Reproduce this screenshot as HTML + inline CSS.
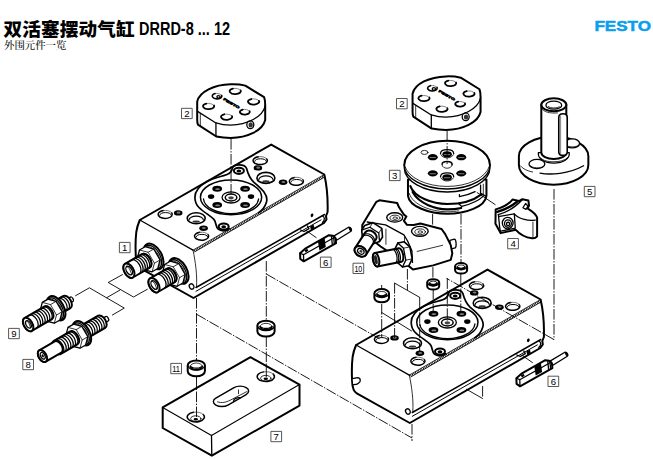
<!DOCTYPE html>
<html lang="zh-CN">
<head>
<meta charset="utf-8">
<title>双活塞摆动气缸 DRRD-8 ... 12</title>
<style>
html,body{margin:0;padding:0;background:#fff;}
body{width:653px;height:459px;overflow:hidden;position:relative;font-family:"Liberation Sans","Noto Sans CJK SC",sans-serif;}
#title{position:absolute;left:3.5px;top:13px;margin:0;white-space:nowrap;line-height:24px;height:24px;font-weight:bold;color:#000;}
#title .cn{font-family:"Liberation Sans","Noto Sans CJK SC",sans-serif;font-weight:900;font-size:18.6px;letter-spacing:0.15px;}
#title .la{font-family:"Liberation Sans","Noto Sans CJK SC",sans-serif;font-weight:bold;font-size:18.2px;display:inline-block;transform-origin:0 50%;transform:scaleX(0.797);margin-left:4.3px;position:relative;top:-1.4px;}
#sub{position:absolute;left:4px;top:39px;margin:0;white-space:nowrap;line-height:14px;font-family:"Liberation Serif","Noto Serif CJK SC",serif;font-size:10.4px;font-weight:500;color:#111;}
#logo{position:absolute;left:594px;top:18px;width:58px;height:15px;}
#draw{position:absolute;left:0;top:0;width:653px;height:459px;}
#draw path,#draw ellipse,#draw circle,#draw line,#draw polyline,#draw polygon,#draw rect{vector-effect:non-scaling-stroke;}
.k{fill:none;stroke:#000;stroke-width:2.0;stroke-linejoin:round;stroke-linecap:round;}
.m{fill:none;stroke:#000;stroke-width:1.3;stroke-linejoin:round;stroke-linecap:round;}
.t{fill:none;stroke:#000;stroke-width:0.8;stroke-linejoin:round;stroke-linecap:round;}
.w{fill:#fff;}
.b{fill:#000;stroke:none;}
.d{fill:none;stroke:#000;stroke-width:0.9;stroke-dasharray:10.6 1.5 1.4 1.5;}
.lb rect{fill:#fff;stroke:#444;stroke-width:0.9;}
.lb text{font-family:"Liberation Sans",sans-serif;font-size:9.6px;fill:#000;text-anchor:middle;}
</style>
</head>
<body>
<h1 id="title"><span class="cn">双活塞摆动气缸</span><span class="la">DRRD-8 ... 12</span></h1>
<p id="sub">外围元件一览</p>
<svg id="logo" viewBox="0 0 58 15"><text x="28.7" y="12.7" text-anchor="middle" textLength="56.5" lengthAdjust="spacingAndGlyphs" font-family="'Liberation Sans',sans-serif" font-weight="bold" font-size="14.2" fill="#0a9fee" stroke="#0a9fee" stroke-width="0.5">FESTO</text></svg>
<svg id="draw" viewBox="0 0 653 459">
<!--DASH-->
<!--p2l:start-->
<g transform="translate(170,70) scale(0.18377)">
<path class="k w" d="M148,172 C160,118 240,80 330,78 C360,77 390,80 410,85 L512,148 C517,160 518,175 518,190 L518,272 C505,330 420,368 330,370 C300,370 275,367 252,362 L152,297 C149,290 148,280 148,270 Z"/>
<path class="m" d="M150,225 L250,288 C275,296 300,300 330,300 C420,298 505,255 518,195"/>
<path class="m" d="M250,288 L250,361"/>
<path class="t" d="M165,238 L165,303"/>
<path class="t" style="stroke:#666" d="M342.11,100.95 A30.5,15.5 0 0 1 384.46,110.99"/><path class="k" style="stroke-width:1.8" d="M384.46,110.99 A30.5,15.5 0 1 1 342.11,100.95"/>
<path class="t" style="stroke:#666" d="M442.11,157.95 A30.5,15.5 0 0 1 484.46,167.99"/><path class="k" style="stroke-width:1.8" d="M484.46,167.99 A30.5,15.5 0 1 1 442.11,157.95"/>
<path class="t" style="stroke:#666" d="M197.11,182.95 A30.5,15.5 0 0 1 239.46,192.99"/><path class="k" style="stroke-width:1.8" d="M239.46,192.99 A30.5,15.5 0 1 1 197.11,182.95"/>
<path class="t" style="stroke:#666" d="M295.11,240.95 A30.5,15.5 0 0 1 337.46,250.99"/><path class="k" style="stroke-width:1.8" d="M337.46,250.99 A30.5,15.5 0 1 1 295.11,240.95"/>
<path class="t" style="stroke:#666" d="M395.59,215.31 A27,14 0 0 1 433.08,224.38"/><path class="k" style="stroke-width:1.8" d="M433.08,224.38 A27,14 0 1 1 395.59,215.31"/>
<path class="t" style="stroke:#666" d="M245.01,128.41 A26,15 0 0 1 281.11,138.12"/><path class="k" style="stroke-width:1.6" d="M281.11,138.12 A26,15 0 1 1 245.01,128.41"/>
<ellipse class="m" cx="264" cy="146" rx="9" ry="7"/>
<text transform="translate(288,162) rotate(30) scale(1,0.6)" font-family="'Liberation Sans',sans-serif" font-weight="bold" font-size="30" fill="#000" stroke="#000" stroke-width="5" textLength="100" lengthAdjust="spacingAndGlyphs">FESTO</text>
<ellipse class="m" cx="437" cy="298" rx="19" ry="21"/>
<ellipse class="b" cx="439" cy="299" rx="12" ry="14" style="fill:#333"/>
</g>
<!--p2l:end-->
<!--body1:start-->
<g id="body1">
<path class="k w" d="M139.8,220 L271.2,144.6 L324.3,174.5 C326.5,184 328,198 327.6,212 L326,216 L326.5,219.5 L324,223 L193.5,298 L140.5,268.3 C137,266.5 136,262 135.8,256 C135.4,248 135.6,238 136.3,232 C137,227 138.5,223 139.8,220 Z"/>
<path class="m" d="M139.8,220 L193,250.1"/>
<path d="M194.3,250.9 L324.6,175.9" fill="none" stroke="#000" stroke-width="2.2" stroke-dasharray="0.9 0.9"/>
<path class="t" d="M193,250.1 L324.3,174.5"/>
<path class="t" d="M194.6,251.9 L324.9,176.9"/>
<path class="t" d="M193,250.1 C195.5,262 197.3,275 196.5,287"/>
<path class="m" style="stroke-width:1.5" d="M196,287.5 L324.5,214.5"/>
<path class="m" style="stroke-width:1.0" d="M196,291.3 L321,219.9"/>
<path class="m" d="M300.5,230 L304,231.5 L309,228.6 L307.5,226"/>
<path class="b" d="M310,226.5 L313.5,224.5 L314.5,228 L311,230 Z"/>
<path class="m" d="M322.5,216 C325,217 325,220 322.5,222.5"/>
<ellipse class="m w" cx="191.6" cy="286.5" rx="2.2" ry="2.8" transform="rotate(-30 191.6 286.5)"/>
<ellipse class="b" cx="312" cy="215.3" rx="1.3" ry="1.9" transform="rotate(20 312 215.3)"/>
<path class="k" style="stroke-width:1.7" d="M232.3,168.5 C233,163.6 245,163.6 246.6,168.5 C247.6,172.5 249,177.5 253.7,182.1 C262,189 268.5,195 266.5,202 C265,207 262,210.5 258.6,212.7 M229.2,228.6 C227.5,231.2 221,231.6 218.2,229.2 C215.5,227 216.5,222.5 213.9,219.4 C211,216 204,212.5 199,207.5 C196,204.5 194.9,200.5 194.9,197.2 C194.9,191 200,185.5 207,181.5 C214,177.7 222,176.5 227,174.5 C230,173.3 231.8,171 232.3,168.5"/>
<ellipse class="m" style="stroke-width:1.5" cx="231.05" cy="197.3" rx="30.6" ry="17.4"/>
<path class="m" d="M203.5,199 A27.6,15.6 0 0 0 258.6,199"/>
<ellipse class="k" style="stroke-width:2.0" cx="238.9" cy="170.8" rx="5.0" ry="3.1"/>
<ellipse class="b" cx="238.9" cy="171.0" rx="2.4" ry="1.5"/>
<ellipse class="k" style="stroke-width:2.0" cx="223.7" cy="226.5" rx="5.0" ry="3.1"/>
<ellipse class="b" cx="223.7" cy="226.7" rx="2.4" ry="1.5"/>
<ellipse class="m" cx="231.05" cy="197.4" rx="9" ry="5.6"/>
<ellipse class="k" style="stroke-width:1.5" cx="231.05" cy="197.5" rx="5.8" ry="3.5"/>
<ellipse class="b" cx="231.05" cy="197.8" rx="2.8" ry="1.6" style="fill:#444"/>
<ellipse class="b" cx="217.2" cy="188.8" rx="4.9" ry="3"/>
<ellipse cx="217.6" cy="189.1" rx="2.4" ry="0.9" fill="#888"/>
<ellipse class="b" cx="245.1" cy="188.8" rx="4.9" ry="3"/>
<ellipse cx="245.5" cy="189.1" rx="2.4" ry="0.9" fill="#888"/>
<ellipse class="b" cx="217.2" cy="205.1" rx="4.9" ry="3"/>
<ellipse cx="217.6" cy="205.4" rx="2.4" ry="0.9" fill="#888"/>
<ellipse class="b" cx="245.1" cy="205.1" rx="4.9" ry="3"/>
<ellipse cx="245.5" cy="205.4" rx="2.4" ry="0.9" fill="#888"/>
<ellipse class="b" cx="211.1" cy="196.6" rx="3.2" ry="2.3"/>
<ellipse class="b" cx="251" cy="196.6" rx="3.2" ry="2.3"/>
<path class="k" style="stroke-width:1.5" d="M171.63,212.71 A7.1,4.0 0 1 1 163.36,210.54"/><path class="t" style="stroke:#555" d="M163.36,210.54 A7.1,4.0 0 0 1 171.63,212.71"/><path class="m" style="stroke-width:1.0" d="M159.72,215.16 A5.8,2.8 0 0 1 171.28,215.16"/>
<ellipse class="b" cx="178.2" cy="212.9" rx="4.3" ry="2.7"/><ellipse cx="178.5" cy="212.7" rx="1.94" ry="1.08" fill="#777"/>
<ellipse class="k" style="stroke-width:1.6" cx="196.2" cy="218.2" rx="9.0" ry="5.5"/><path class="m" style="stroke-width:1.2" d="M189.10,219.80 A7.1,3.6 0 0 1 203.30,219.80"/><ellipse class="b" style="fill:#333" cx="196.2" cy="221.6" rx="3.6" ry="1.1"/>
<ellipse class="b" cx="203.6" cy="228.2" rx="4.3" ry="2.7"/><ellipse cx="203.9" cy="228.0" rx="1.94" ry="1.08" fill="#777"/>
<path class="k" style="stroke-width:1.5" d="M208.03,234.51 A7.1,4.0 0 1 1 199.76,232.34"/><path class="t" style="stroke:#555" d="M199.76,232.34 A7.1,4.0 0 0 1 208.03,234.51"/><path class="m" style="stroke-width:1.0" d="M196.12,236.96 A5.8,2.8 0 0 1 207.68,236.96"/>
<path class="k" style="stroke-width:1.5" d="M266.63,158.91 A7.1,4.0 0 1 1 258.36,156.74"/><path class="t" style="stroke:#555" d="M258.36,156.74 A7.1,4.0 0 0 1 266.63,158.91"/><path class="m" style="stroke-width:1.0" d="M254.72,161.36 A5.8,2.8 0 0 1 266.28,161.36"/>
<ellipse class="b" cx="257.9" cy="167.9" rx="4.3" ry="2.7"/><ellipse cx="258.2" cy="167.7" rx="1.94" ry="1.08" fill="#777"/>
<ellipse class="k" style="stroke-width:1.6" cx="265.9" cy="177.9" rx="9.0" ry="5.5"/><path class="m" style="stroke-width:1.2" d="M258.80,179.50 A7.1,3.6 0 0 1 273.00,179.50"/><ellipse class="b" style="fill:#333" cx="265.9" cy="181.3" rx="3.6" ry="1.1"/>
<ellipse class="b" cx="283.1" cy="182.2" rx="4.3" ry="2.7"/><ellipse cx="283.4" cy="182.0" rx="1.94" ry="1.08" fill="#777"/>
<path class="k" style="stroke-width:1.5" d="M302.83,179.61 A7.1,4.0 0 1 1 294.56,177.44"/><path class="t" style="stroke:#555" d="M294.56,177.44 A7.1,4.0 0 0 1 302.83,179.61"/><path class="m" style="stroke-width:1.0" d="M290.92,182.06 A5.8,2.8 0 0 1 302.48,182.06"/>
</g>
<!--body1:end-->
<!--fit1:start-->
<g id="fit1">
<g transform="translate(153.6,256.4) rotate(-30)">
<ellipse class="k w" cx="0" cy="0" rx="8.09" ry="14.00"/>
<ellipse class="m" cx="-1.2" cy="0" rx="7.49" ry="12.80"/>
<ellipse class="t" cx="-2.2" cy="0" rx="7.09" ry="12.00"/>
<path class="m w" d="M-2.50,-12.60 L3.81,-6.30 L3.81,6.30 L-2.50,12.60 L-9.00,12.60 L-15.31,6.30 L-15.31,-6.30 L-9.00,-12.60 Z"/>
<path class="t" d="M-9.00,-12.60 L-2.69,-6.30 L-2.69,6.30 L-9.00,12.60"/>
<path class="t" d="M-2.69,-6.30 L3.81,-6.30 M-2.69,6.30 L3.81,6.30"/>
<path class="k w" d="M-9.00,-7.90 L-28.50,-7.90 A4.57,7.90 0 0 0 -28.50,7.90 L-9.00,7.90 A4.57,7.90 0 0 0 -9.00,-7.90 Z"/>
<path class="m" style="stroke-width:1.3" d="M-21.00,-7.90 A4.57,7.90 0 0 1 -21.00,7.90"/>
<path class="m" style="stroke-width:1.3" d="M-18.50,-7.90 A4.57,7.90 0 0 1 -18.50,7.90"/>
<path class="m" style="stroke-width:1.3" d="M-16.00,-7.90 A4.57,7.90 0 0 1 -16.00,7.90"/>
<path class="m" style="stroke-width:1.3" d="M-13.50,-7.90 A4.57,7.90 0 0 1 -13.50,7.90"/>
<path class="m" style="stroke-width:1.3" d="M-11.00,-7.90 A4.57,7.90 0 0 1 -11.00,7.90"/>
<path class="m" style="stroke-width:1.3" d="M-8.50,-7.90 A4.57,7.90 0 0 1 -8.50,7.90"/>
<ellipse class="k w" cx="-28.50" cy="0" rx="4.57" ry="7.90"/>
<ellipse class="m" cx="-28.20" cy="0" rx="2.74" ry="4.74"/>
<path class="t" d="M-28.20,-4.74 L-27.00,-1.19 L-27.90,4.58"/>
</g>
<g transform="translate(178.7,270.9) rotate(-30)">
<ellipse class="k w" cx="0" cy="0" rx="8.09" ry="14.00"/>
<ellipse class="m" cx="-1.2" cy="0" rx="7.49" ry="12.80"/>
<ellipse class="t" cx="-2.2" cy="0" rx="7.09" ry="12.00"/>
<path class="m w" d="M-2.50,-12.60 L3.81,-6.30 L3.81,6.30 L-2.50,12.60 L-9.00,12.60 L-15.31,6.30 L-15.31,-6.30 L-9.00,-12.60 Z"/>
<path class="t" d="M-9.00,-12.60 L-2.69,-6.30 L-2.69,6.30 L-9.00,12.60"/>
<path class="t" d="M-2.69,-6.30 L3.81,-6.30 M-2.69,6.30 L3.81,6.30"/>
<path class="k w" d="M-9.00,-7.90 L-28.50,-7.90 A4.57,7.90 0 0 0 -28.50,7.90 L-9.00,7.90 A4.57,7.90 0 0 0 -9.00,-7.90 Z"/>
<path class="m" style="stroke-width:1.3" d="M-21.00,-7.90 A4.57,7.90 0 0 1 -21.00,7.90"/>
<path class="m" style="stroke-width:1.3" d="M-18.50,-7.90 A4.57,7.90 0 0 1 -18.50,7.90"/>
<path class="m" style="stroke-width:1.3" d="M-16.00,-7.90 A4.57,7.90 0 0 1 -16.00,7.90"/>
<path class="m" style="stroke-width:1.3" d="M-13.50,-7.90 A4.57,7.90 0 0 1 -13.50,7.90"/>
<path class="m" style="stroke-width:1.3" d="M-11.00,-7.90 A4.57,7.90 0 0 1 -11.00,7.90"/>
<path class="m" style="stroke-width:1.3" d="M-8.50,-7.90 A4.57,7.90 0 0 1 -8.50,7.90"/>
<ellipse class="k w" cx="-28.50" cy="0" rx="4.57" ry="7.90"/>
<ellipse class="m" cx="-28.20" cy="0" rx="2.74" ry="4.74"/>
<path class="t" d="M-28.20,-4.74 L-27.00,-1.19 L-27.90,4.58"/>
</g>
</g>
<!--fit1:end-->
<!--abs89:start-->
<g id="abs89">
<g transform="translate(56.1,308.3) rotate(-30)">
<path class="m w" d="M12.5,-2.5 L18.0,-2.5 A1.45,2.5 0 0 1 18.0,2.5 L12.5,2.5 Z"/>
<path class="k w" d="M0,-7.0 L12.5,-7.0 A4.05,7.0 0 0 1 12.5,7.0 L0,7.0 Z"/>
<path class="m" style="stroke-width:1.25" d="M9.80,-7.0 A4.05,7.0 0 0 1 9.80,7.0"/>
<path class="m" style="stroke-width:1.25" d="M7.10,-7.0 A4.05,7.0 0 0 1 7.10,7.0"/>
<ellipse class="k w" cx="0" cy="0" rx="7.69" ry="13.30"/>
<ellipse class="m" cx="-1.2" cy="0" rx="7.09" ry="12.10"/>
<ellipse class="t" cx="-2.2" cy="0" rx="6.69" ry="11.30"/>
<path class="m w" d="M-2.50,-12.00 L3.51,-6.00 L3.51,6.00 L-2.50,12.00 L-9.00,12.00 L-15.01,6.00 L-15.01,-6.00 L-9.00,-12.00 Z"/>
<path class="t" d="M-9.00,-12.00 L-2.99,-6.00 L-2.99,6.00 L-9.00,12.00"/>
<path class="t" d="M-2.99,-6.00 L3.51,-6.00 M-2.99,6.00 L3.51,6.00"/>
<path class="k w" d="M-9.00,-7.4 L-32.30,-7.4 A4.28,7.4 0 0 0 -32.30,7.4 L-9.00,7.4 A4.28,7.4 0 0 0 -9.00,-7.4 Z"/>
<path class="m" style="stroke-width:1.25" d="M-10.50,-7.4 A4.28,7.4 0 0 1 -10.50,7.4"/>
<path class="m" style="stroke-width:1.25" d="M-13.20,-7.4 A4.28,7.4 0 0 1 -13.20,7.4"/>
<path class="m" style="stroke-width:1.25" d="M-15.90,-7.4 A4.28,7.4 0 0 1 -15.90,7.4"/>
<path class="m" style="stroke-width:1.25" d="M-18.60,-7.4 A4.28,7.4 0 0 1 -18.60,7.4"/>
<path class="m" style="stroke-width:1.25" d="M-21.30,-7.4 A4.28,7.4 0 0 1 -21.30,7.4"/>
<path class="m" style="stroke-width:1.25" d="M-24.00,-7.4 A4.28,7.4 0 0 1 -24.00,7.4"/>
<path class="m" style="stroke-width:1.25" d="M-26.70,-7.4 A4.28,7.4 0 0 1 -26.70,7.4"/>
<ellipse class="k w" cx="-32.30" cy="0" rx="4.28" ry="7.40"/>
<ellipse class="m" cx="-32.00" cy="0" rx="2.35" ry="4.07"/>
<path class="t" d="M-32.00,-4.07 L-30.90,-1.11 L-31.70,3.92"/>
</g>
<g transform="translate(81.8,333.3) rotate(-30)">
<path class="m w" d="M23,-2.5 L29,-2.5 A1.45,2.5 0 0 1 29,2.5 L23,2.5 Z"/>
<path class="k w" d="M0,-7.0 L23,-7.0 A4.05,7.0 0 0 1 23,7.0 L0,7.0 Z"/>
<path class="m" style="stroke-width:1.25" d="M20.30,-7.0 A4.05,7.0 0 0 1 20.30,7.0"/>
<path class="m" style="stroke-width:1.25" d="M17.60,-7.0 A4.05,7.0 0 0 1 17.60,7.0"/>
<path class="m" style="stroke-width:1.25" d="M14.90,-7.0 A4.05,7.0 0 0 1 14.90,7.0"/>
<path class="m" style="stroke-width:1.25" d="M12.20,-7.0 A4.05,7.0 0 0 1 12.20,7.0"/>
<path class="m" style="stroke-width:1.25" d="M9.50,-7.0 A4.05,7.0 0 0 1 9.50,7.0"/>
<path class="m" style="stroke-width:1.25" d="M6.80,-7.0 A4.05,7.0 0 0 1 6.80,7.0"/>
<ellipse class="k w" cx="0" cy="0" rx="7.69" ry="13.30"/>
<ellipse class="m" cx="-1.2" cy="0" rx="7.09" ry="12.10"/>
<ellipse class="t" cx="-2.2" cy="0" rx="6.69" ry="11.30"/>
<path class="m w" d="M-2.50,-12.00 L3.51,-6.00 L3.51,6.00 L-2.50,12.00 L-9.00,12.00 L-15.01,6.00 L-15.01,-6.00 L-9.00,-12.00 Z"/>
<path class="t" d="M-9.00,-12.00 L-2.99,-6.00 L-2.99,6.00 L-9.00,12.00"/>
<path class="t" d="M-2.99,-6.00 L3.51,-6.00 M-2.99,6.00 L3.51,6.00"/>
<path class="k w" d="M-9.00,-7.4 L-28.40,-7.4 A4.28,7.4 0 0 0 -28.40,7.4 L-9.00,7.4 A4.28,7.4 0 0 0 -9.00,-7.4 Z"/>
<path class="m" style="stroke-width:1.25" d="M-10.50,-7.4 A4.28,7.4 0 0 1 -10.50,7.4"/>
<path class="m" style="stroke-width:1.25" d="M-13.20,-7.4 A4.28,7.4 0 0 1 -13.20,7.4"/>
<path class="m" style="stroke-width:1.25" d="M-15.90,-7.4 A4.28,7.4 0 0 1 -15.90,7.4"/>
<path class="m" style="stroke-width:1.25" d="M-18.60,-7.4 A4.28,7.4 0 0 1 -18.60,7.4"/>
<path class="m" style="stroke-width:1.25" d="M-21.30,-7.4 A4.28,7.4 0 0 1 -21.30,7.4"/>
<path class="m" style="stroke-width:1.25" d="M-24.00,-7.4 A4.28,7.4 0 0 1 -24.00,7.4"/>
<path class="m" style="stroke-width:1.25" d="M-26.70,-7.4 A4.28,7.4 0 0 1 -26.70,7.4"/>
<path class="k w" d="M-27.40,-6.6 L-45.40,-6.6 A3.82,6.6 0 0 0 -45.40,6.6 L-27.40,6.6 A3.82,6.6 0 0 0 -27.40,-6.6 Z"/>
<ellipse class="k w" cx="-45.40" cy="0" rx="3.82" ry="6.60"/>
<ellipse class="m" cx="-45.10" cy="0" rx="2.10" ry="3.63"/>
<ellipse class="b" cx="-45.10" cy="0" rx="0.95" ry="1.65"/>
</g>
</g>
<!--abs89:end-->
<!--plate7:start-->
<g id="plate7">
<path class="k w" d="M162.7,407.4 L250.5,357.2 L299.5,384.6 L299.5,405.6 L211.8,455.6 L162.7,428 Z"/>
<path class="m" style="stroke-width:1.1" d="M162.7,407.4 L211.5,435.4 L299.5,384.6"/>
<path class="m" d="M211.5,435.4 L211.8,455.6"/>
<!-- holes -->
<path class="k" style="stroke-width:1.5" d="M203.25,414.55 A8.6,4.9 0 1 1 193.57,412.27"/><path class="t" style="stroke:#555" d="M193.57,412.27 A8.6,4.9 0 0 1 203.25,414.55"/><ellipse class="t" cx="195.8" cy="418.6" rx="5.2" ry="2.8"/><ellipse class="b" cx="195.8" cy="419.2" rx="2.2" ry="1.2"/>
<path class="k" style="stroke-width:1.5" d="M273.25,374.15 A8.6,4.9 0 1 1 263.57,371.87"/><path class="t" style="stroke:#555" d="M263.57,371.87 A8.6,4.9 0 0 1 273.25,374.15"/><ellipse class="t" cx="265.8" cy="378.20000000000005" rx="5.2" ry="2.8"/><ellipse class="b" cx="265.8" cy="378.8" rx="2.2" ry="1.2"/>
<!-- slot -->
<g transform="translate(231,396.3)">
<path class="m" style="stroke-width:1.4" d="M-15.16,1.75 L3.03,-8.75 A8.57,4.95 0 0 1 15.16,-1.75 L-3.03,8.75 A8.57,4.95 0 0 1 -15.16,1.75 Z"/>
<path class="t" d="M-13.5,5.6 C-9,7 -5,6 -1,4 L16,-4.8"/>
<path class="m" d="M2.6,5 C2.4,2.4 6,0.8 9.6,1.4"/>
<path class="t" d="M7.5,-6.4 L7.5,-2.6"/>
</g>
</g>
<!--plate7:end-->
<!--rings11:start-->
<g id="rings11">
<g transform="translate(196.3,365.3)">
<path class="k w" d="M-8.6,0 A8.6,4.9 0 0 1 8.6,0 L8.6,6.0 A8.6,4.9 0 0 1 -8.6,6.0 Z"/>
<path class="m" d="M-8.6,0 A8.6,4.9 0 0 0 8.6,0"/>
<path class="t" d="M-6.0,1.0 A6.0,3.3 0 0 1 6.0,1.0"/>
<path class="k" style="stroke-width:1.7" d="M-6.0,1.0 A6.0,3.3 0 0 0 6.0,1.0"/>
<path class="m" d="M-4.8,1.6 A6.0,3.3 0 0 0 4.8,1.6"/>
</g>
<g transform="translate(266,325.6)">
<path class="k w" d="M-8.6,0 A8.6,4.9 0 0 1 8.6,0 L8.6,6.0 A8.6,4.9 0 0 1 -8.6,6.0 Z"/>
<path class="m" d="M-8.6,0 A8.6,4.9 0 0 0 8.6,0"/>
<path class="t" d="M-6.0,1.0 A6.0,3.3 0 0 1 6.0,1.0"/>
<path class="k" style="stroke-width:1.7" d="M-6.0,1.0 A6.0,3.3 0 0 0 6.0,1.0"/>
<path class="m" d="M-4.8,1.6 A6.0,3.3 0 0 0 4.8,1.6"/>
</g>
</g>
<!--rings11:end-->
<!--p2r:start-->
<g transform="translate(385,65) scale(0.18377) translate(2,-16)">
<path class="k w" d="M148,172 C160,118 240,80 330,78 C360,77 390,80 410,85 L512,148 C517,160 518,175 518,190 L518,272 C505,330 420,368 330,370 C300,370 275,367 252,362 L152,297 C149,290 148,280 148,270 Z"/>
<path class="m" d="M150,225 L250,288 C275,296 300,300 330,300 C420,298 505,255 518,195"/>
<path class="m" d="M250,288 L250,361"/>
<path class="t" d="M165,238 L165,303"/>
<path class="t" style="stroke:#666" d="M342.11,100.95 A30.5,15.5 0 0 1 384.46,110.99"/><path class="k" style="stroke-width:1.8" d="M384.46,110.99 A30.5,15.5 0 1 1 342.11,100.95"/>
<path class="t" style="stroke:#666" d="M442.11,157.95 A30.5,15.5 0 0 1 484.46,167.99"/><path class="k" style="stroke-width:1.8" d="M484.46,167.99 A30.5,15.5 0 1 1 442.11,157.95"/>
<path class="t" style="stroke:#666" d="M197.11,182.95 A30.5,15.5 0 0 1 239.46,192.99"/><path class="k" style="stroke-width:1.8" d="M239.46,192.99 A30.5,15.5 0 1 1 197.11,182.95"/>
<path class="t" style="stroke:#666" d="M295.11,240.95 A30.5,15.5 0 0 1 337.46,250.99"/><path class="k" style="stroke-width:1.8" d="M337.46,250.99 A30.5,15.5 0 1 1 295.11,240.95"/>
<path class="t" style="stroke:#666" d="M395.59,215.31 A27,14 0 0 1 433.08,224.38"/><path class="k" style="stroke-width:1.8" d="M433.08,224.38 A27,14 0 1 1 395.59,215.31"/>
<path class="t" style="stroke:#666" d="M245.01,128.41 A26,15 0 0 1 281.11,138.12"/><path class="k" style="stroke-width:1.6" d="M281.11,138.12 A26,15 0 1 1 245.01,128.41"/>
<ellipse class="m" cx="264" cy="146" rx="9" ry="7"/>
<text transform="translate(288,162) rotate(30) scale(1,0.6)" font-family="'Liberation Sans',sans-serif" font-weight="bold" font-size="30" fill="#000" stroke="#000" stroke-width="5" textLength="100" lengthAdjust="spacingAndGlyphs">FESTO</text>
<ellipse class="m" cx="437" cy="298" rx="19" ry="21"/>
<ellipse class="b" cx="439" cy="299" rx="12" ry="14" style="fill:#333"/>
</g>
<!--p2r:end-->
<!--p3:start-->
<g id="p3" transform="translate(385,130) scale(0.18377)">
<path class="k w" d="M125,270 L125,358 C132,416 240,456 338,456 C440,456 545,418 552,358 L552,270 Z"/>
<path class="k" style="stroke-width:2.1" d="M138,305 C160,367 260,403 338,403 C410,403 480,385 525,350"/>
<path class="k" style="stroke-width:2.1" d="M150,338 C185,403 280,432 338,432 C370,432 395,429 415,424"/>
<path class="t" d="M132,345 C150,408 250,444 338,445 C360,445 385,443 400,440"/>
<path class="m" d="M405,352 L405,362 C440,356 470,345 490,335"/>
<path class="m" d="M400,400 L418,416 C460,405 510,385 535,360"/>
<path class="m" d="M520,300 L520,345 L548,360"/>
<path class="t" d="M535,295 L535,352"/>
<path class="m w" style="stroke-width:1.4" d="M105,192 L105,206 A233,131 0 0 0 571,206 L571,192 Z"/>
<ellipse class="w" cx="338" cy="190" rx="233" ry="131"/>
<path class="k" d="M105,190 A233,131 0 0 1 571,190"/>
<path class="m" d="M105,190 A233,131 0 0 0 571,190"/>
<path class="t" d="M108,197 A233,131 0 0 0 568,197"/>
<g class="b">
<ellipse cx="260" cy="148" rx="27" ry="17"/><ellipse cx="415" cy="148" rx="27" ry="17"/>
<ellipse cx="260" cy="236" rx="27" ry="17"/><ellipse cx="415" cy="236" rx="27" ry="17"/>
<ellipse cx="338" cy="132" rx="26" ry="17"/><ellipse cx="338" cy="258" rx="26" ry="17"/>
</g>
<g fill="none" stroke="#fff" stroke-width="0.5">
<path d="M243,150 h34 M398,150 h34 M243,238 h34 M398,238 h34 M321,134 h34 M321,260 h34"/>
</g>
<path class="m" d="M302,128 C304,100 372,100 374,128"/>
<path class="m" d="M302,254 C304,226 372,226 374,254"/>
<path class="t" d="M304,134 C312,158 364,158 372,134 M304,260 C312,284 364,284 372,260"/>
<ellipse class="t" cx="338" cy="190" rx="27" ry="18"/>
<path class="m" d="M310,186 C314,166 362,166 366,186"/>
<ellipse class="t" cx="215" cy="122" rx="19" ry="11"/>
</g>
<!--p3:end-->
<!--p5:start-->
<g id="p5" transform="translate(495,125) scale(0.18377)">
<!-- flange -->
<path class="k w" d="M130,170 L130,218 A189,107 0 0 0 508,218 L508,170 A189,107 0 0 0 130,170 Z"/>
<path class="m" d="M245,262 C300,272 400,268 482,222"/>
<path class="t" d="M138,222 C150,238 175,250 205,256"/>
<!-- holes -->
<ellipse class="m w" cx="420" cy="100" rx="40" ry="25"/>
<path class="t" d="M385,108 C395,122 440,124 455,110"/>
<ellipse class="m w" cx="228" cy="212" rx="43" ry="25"/>
<path class="t" d="M190,220 C200,236 250,238 266,224"/>
<!-- collar -->
<path class="m w" d="M236,150 C232,185 270,207 320,207 C370,207 408,185 404,150 Z"/>
<path class="t" d="M248,178 C262,196 290,200 320,200 C350,200 380,194 394,178"/>
<!-- shaft -->
<path class="k w" d="M252,-110 L252,150 A68,35 0 0 0 388,150 L388,-110 Z"/>
<!-- key -->
<path class="k w" style="stroke-width:1.6" d="M347,-40 C347,-68 393,-68 393,-40 L393,145 C393,172 347,172 347,145 Z"/>
<path class="t" style="stroke:#666" d="M357,-48 L357,158"/>
<!-- top -->
<ellipse class="k w" cx="320" cy="-110" rx="68" ry="35"/>
<ellipse class="m" cx="320" cy="-108" rx="43" ry="22"/>
<path class="t" d="M290,-100 C300,-90 340,-90 350,-100"/>
<path class="t" d="M254,-92 C262,-70 300,-62 340,-66"/>
</g>
<!--p5:end-->
<!--p4:start-->
<g id="p4" transform="translate(480,190) scale(0.12255)">
<path class="k w" d="M128,158 C180,145 235,115 265,78 L318,90 L345,75 L395,86 L400,128 L388,150 C420,170 455,190 466,225 L466,378 C455,392 440,396 425,394 C380,388 330,368 292,325 L168,352 L140,300 L126,275 Z"/>
<path class="k" d="M140,178 C200,162 255,135 300,98" style="stroke-width:2.4"/>
<path class="m" d="M150,200 C210,185 270,160 345,80"/>
<path class="m" d="M150,200 L160,300 L168,352"/>
<path class="m" d="M160,215 L280,195 L288,312 L170,335"/>
<path class="m" d="M280,195 C320,240 400,255 450,245"/>
<path class="t" d="M432,262 L432,385"/>
<path class="m" d="M350,145 L372,110 L392,132 L375,158 Z"/>
<ellipse class="m" cx="226" cy="270" rx="44" ry="47"/>
<ellipse class="m" cx="228" cy="274" rx="28" ry="30"/>
<ellipse class="m" cx="229" cy="277" rx="13" ry="14"/>
</g>
<!--p4:end-->
<!--p10:start-->
<g id="p10" transform="translate(350,222) scale(0.12255)">
<!-- pin -->
<path class="m w" d="M815,150 L852,140 C866,140 872,200 858,212 L822,222 Z"/>
<!-- bracket body -->
<path class="k w" d="M100,25 L215,-165 L240,-177 L385,-155 L400,-120 L440,-60 L460,-45 L440,-10 L465,23 L520,25 L574,12 L747,57 L777,99 L822,189 L835,256 L822,309 L679,354 L514,387 L480,360 L400,300 L250,200 L100,80 Z"/>
<path class="m" d="M140,0 L290,23 L440,105 L470,155 L505,235 L510,330"/>
<path class="t" d="M293,58 L293,182" style="stroke:#555;stroke-width:1.2"/>
<path class="t" d="M548,240 L756,190"/>
<path class="t" d="M445,120 L445,160"/>
<!-- screws -->
<ellipse class="k w" cx="365" cy="-37" rx="65" ry="38" style="stroke-width:1.4"/>
<ellipse class="t" cx="367" cy="-33" rx="42" ry="23"/>
<ellipse class="t" cx="368" cy="-31" rx="18" ry="10"/>
<ellipse class="k w" cx="570" cy="76" rx="68" ry="40" style="stroke-width:1.4"/>
<ellipse class="t" cx="572" cy="80" rx="44" ry="24"/>
<ellipse class="t" cx="573" cy="82" rx="18" ry="10"/>
<!-- left absorber -->
</g>
<g id="p10abs">
<g transform="translate(373.9,230.8) rotate(-57)">
<path class="k w" style="stroke-width:1.6" d="M-12.80,5.30 L-12.80,-5.30 L-6.00,-10.60 L-0.50,-10.60 L6.30,-5.30 L6.30,5.30 L-0.50,10.60 L-6.00,10.60 Z"/>
<path class="m" d="M-6.00,-10.60 L0.80,-5.30 L0.80,5.30 L-6.00,10.60"/>
<path class="t" d="M0.80,-5.30 L6.30,-5.30"/>
<path class="t" d="M0.80,5.30 L6.30,5.30"/>
<path class="k w" d="M-6.00,-6.4 L-24.50,-6.4 A4.74,6.4 0 0 0 -24.50,6.4 L-6.00,6.4 A4.74,6.4 0 0 0 -6.00,-6.4 Z"/>
<path class="m" style="stroke-width:1.2" d="M-9.80,-6.4 A4.74,6.4 0 0 1 -9.80,6.4"/>
<path class="m" style="stroke-width:1.2" d="M-11.60,-6.4 A4.74,6.4 0 0 1 -11.60,6.4"/>
<ellipse class="k w" cx="-24.50" cy="0" rx="4.74" ry="6.40"/>
<ellipse class="m" cx="-24.30" cy="0.2" rx="2.61" ry="3.52"/>
<ellipse class="b" style="fill:#333" cx="-24.30" cy="0.3" rx="1.23" ry="1.66"/>
</g>
<!-- right absorber -->
<g transform="translate(407.5,253.6) rotate(-11)">
<path class="k w" style="stroke-width:1.6" d="M-12.09,6.10 L-12.09,-6.10 L-7.50,-12.20 L-1.00,-12.20 L3.59,-6.10 L3.59,6.10 L-1.00,12.20 L-7.50,12.20 Z"/>
<path class="m" d="M-7.50,-12.20 L-2.91,-6.10 L-2.91,6.10 L-7.50,12.20"/>
<path class="t" d="M-2.91,-6.10 L3.59,-6.10"/>
<path class="t" d="M-2.91,6.10 L3.59,6.10"/>
<path class="k w" d="M-7.50,-6.9 L-32.00,-6.9 A3.00,6.9 0 0 0 -32.00,6.9 L-7.50,6.9 A3.00,6.9 0 0 0 -7.50,-6.9 Z"/>
<path class="m" style="stroke-width:1.2" d="M-10.50,-6.9 A3.00,6.9 0 0 1 -10.50,6.9"/>
<path class="m" style="stroke-width:1.2" d="M-12.20,-6.9 A3.00,6.9 0 0 1 -12.20,6.9"/>
<path class="m" style="stroke-width:1.2" d="M-13.90,-6.9 A3.00,6.9 0 0 1 -13.90,6.9"/>
<ellipse class="k w" cx="-32.00" cy="0" rx="3.00" ry="6.90"/>
<ellipse class="b" style="fill:#222" cx="-32.20" cy="0" rx="1.65" ry="4.69"/>
</g>
</g>
<!--p10:end-->
<!--body2:start-->
<g id="body2" transform="translate(216.3,125)">
<path class="k w" d="M139.8,220 L271.2,144.6 L324.3,174.5 C326.5,184 328,198 327.6,212 L326,216 L326.5,219.5 L324,223 L193.5,298 L140.5,268.3 C137,266.5 136,262 135.8,256 C135.4,248 135.6,238 136.3,232 C137,227 138.5,223 139.8,220 Z"/>
<path class="m" d="M139.8,220 L193,250.1"/>
<path d="M194.3,250.9 L324.6,175.9" fill="none" stroke="#000" stroke-width="2.2" stroke-dasharray="0.9 0.9"/>
<path class="t" d="M193,250.1 L324.3,174.5"/>
<path class="t" d="M194.6,251.9 L324.9,176.9"/>
<path class="t" d="M193,250.1 C195.5,262 197.3,275 196.5,287"/>
<path class="m" style="stroke-width:1.5" d="M196,287.5 L324.5,214.5"/>
<path class="m" style="stroke-width:1.0" d="M196,291.3 L321,219.9"/>
<path class="m" d="M300.5,230 L304,231.5 L309,228.6 L307.5,226"/>
<path class="b" d="M310,226.5 L313.5,224.5 L314.5,228 L311,230 Z"/>
<path class="m" d="M322.5,216 C325,217 325,220 322.5,222.5"/>
<ellipse class="m w" cx="191.6" cy="286.5" rx="2.2" ry="2.8" transform="rotate(-30 191.6 286.5)"/>
<ellipse class="b" cx="312" cy="215.3" rx="1.3" ry="1.9" transform="rotate(20 312 215.3)"/>
<path class="k" style="stroke-width:1.7" d="M232.3,168.5 C233,163.6 245,163.6 246.6,168.5 C247.6,172.5 249,177.5 253.7,182.1 C262,189 268.5,195 266.5,202 C265,207 262,210.5 258.6,212.7 M229.2,228.6 C227.5,231.2 221,231.6 218.2,229.2 C215.5,227 216.5,222.5 213.9,219.4 C211,216 204,212.5 199,207.5 C196,204.5 194.9,200.5 194.9,197.2 C194.9,191 200,185.5 207,181.5 C214,177.7 222,176.5 227,174.5 C230,173.3 231.8,171 232.3,168.5"/>
<ellipse class="m" style="stroke-width:1.5" cx="231.05" cy="197.3" rx="30.6" ry="17.4"/>
<path class="m" d="M203.5,199 A27.6,15.6 0 0 0 258.6,199"/>
<ellipse class="k" style="stroke-width:2.0" cx="238.9" cy="170.8" rx="5.0" ry="3.1"/>
<ellipse class="b" cx="238.9" cy="171.0" rx="2.4" ry="1.5"/>
<ellipse class="k" style="stroke-width:2.0" cx="223.7" cy="226.5" rx="5.0" ry="3.1"/>
<ellipse class="b" cx="223.7" cy="226.7" rx="2.4" ry="1.5"/>
<ellipse class="m" cx="231.05" cy="197.4" rx="9" ry="5.6"/>
<ellipse class="k" style="stroke-width:1.5" cx="231.05" cy="197.5" rx="5.8" ry="3.5"/>
<ellipse class="b" cx="231.05" cy="197.8" rx="2.8" ry="1.6" style="fill:#444"/>
<ellipse class="b" cx="217.2" cy="188.8" rx="4.9" ry="3"/>
<ellipse cx="217.6" cy="189.1" rx="2.4" ry="0.9" fill="#888"/>
<ellipse class="b" cx="245.1" cy="188.8" rx="4.9" ry="3"/>
<ellipse cx="245.5" cy="189.1" rx="2.4" ry="0.9" fill="#888"/>
<ellipse class="b" cx="217.2" cy="205.1" rx="4.9" ry="3"/>
<ellipse cx="217.6" cy="205.4" rx="2.4" ry="0.9" fill="#888"/>
<ellipse class="b" cx="245.1" cy="205.1" rx="4.9" ry="3"/>
<ellipse cx="245.5" cy="205.4" rx="2.4" ry="0.9" fill="#888"/>
<ellipse class="b" cx="211.1" cy="196.6" rx="3.2" ry="2.3"/>
<ellipse class="b" cx="251" cy="196.6" rx="3.2" ry="2.3"/>
<path class="k" style="stroke-width:1.5" d="M171.63,212.71 A7.1,4.0 0 1 1 163.36,210.54"/><path class="t" style="stroke:#555" d="M163.36,210.54 A7.1,4.0 0 0 1 171.63,212.71"/><path class="m" style="stroke-width:1.0" d="M159.72,215.16 A5.8,2.8 0 0 1 171.28,215.16"/>
<ellipse class="b" cx="178.2" cy="212.9" rx="4.3" ry="2.7"/><ellipse cx="178.5" cy="212.7" rx="1.94" ry="1.08" fill="#777"/>
<ellipse class="k" style="stroke-width:1.6" cx="196.2" cy="218.2" rx="9.0" ry="5.5"/><path class="m" style="stroke-width:1.2" d="M189.10,219.80 A7.1,3.6 0 0 1 203.30,219.80"/><ellipse class="b" style="fill:#333" cx="196.2" cy="221.6" rx="3.6" ry="1.1"/>
<ellipse class="b" cx="203.6" cy="228.2" rx="4.3" ry="2.7"/><ellipse cx="203.9" cy="228.0" rx="1.94" ry="1.08" fill="#777"/>
<path class="k" style="stroke-width:1.5" d="M208.03,234.51 A7.1,4.0 0 1 1 199.76,232.34"/><path class="t" style="stroke:#555" d="M199.76,232.34 A7.1,4.0 0 0 1 208.03,234.51"/><path class="m" style="stroke-width:1.0" d="M196.12,236.96 A5.8,2.8 0 0 1 207.68,236.96"/>
<path class="k" style="stroke-width:1.5" d="M266.63,158.91 A7.1,4.0 0 1 1 258.36,156.74"/><path class="t" style="stroke:#555" d="M258.36,156.74 A7.1,4.0 0 0 1 266.63,158.91"/><path class="m" style="stroke-width:1.0" d="M254.72,161.36 A5.8,2.8 0 0 1 266.28,161.36"/>
<ellipse class="b" cx="257.9" cy="167.9" rx="4.3" ry="2.7"/><ellipse cx="258.2" cy="167.7" rx="1.94" ry="1.08" fill="#777"/>
<ellipse class="k" style="stroke-width:1.6" cx="265.9" cy="177.9" rx="9.0" ry="5.5"/><path class="m" style="stroke-width:1.2" d="M258.80,179.50 A7.1,3.6 0 0 1 273.00,179.50"/><ellipse class="b" style="fill:#333" cx="265.9" cy="181.3" rx="3.6" ry="1.1"/>
<ellipse class="b" cx="283.1" cy="182.2" rx="4.3" ry="2.7"/><ellipse cx="283.4" cy="182.0" rx="1.94" ry="1.08" fill="#777"/>
<path class="k" style="stroke-width:1.5" d="M302.83,179.61 A7.1,4.0 0 1 1 294.56,177.44"/><path class="t" style="stroke:#555" d="M294.56,177.44 A7.1,4.0 0 0 1 302.83,179.61"/><path class="m" style="stroke-width:1.0" d="M290.92,182.06 A5.8,2.8 0 0 1 302.48,182.06"/>
<path class="m w" d="M136.3,253.6 L141.2,252.6 C144.4,252.6 145,256.8 142.2,258.2 C141.2,259.2 139.4,259.6 137,259.7"/>
</g>
<!--body2:end-->
<!--sens:start-->
<g id="sens1" transform="translate(290,215) scale(0.12255)">
<path class="m w" d="M360,170 L478,100 C498,98 508,124 498,132 L380,206 Z"/>
<ellipse class="b" cx="492" cy="115" rx="11" ry="19" transform="rotate(-30 492 115)"/>
<path class="k w" d="M82,312 L128,272 L318,165 L350,170 L372,190 L376,230 L112,378 L84,358 Z"/>
<path class="m" d="M82,312 L110,324 L112,378 M110,324 L350,190"/>
<path class="b" d="M228,215 L282,185 L292,262 L240,290 Z"/>
<path class="b" d="M118,290 L140,276 L150,292 L128,306 Z"/>
<path class="m" d="M338,172 L345,238 M355,175 L362,235"/>
</g>
<g id="sens2" transform="translate(506.3,340) scale(0.12255)">
<path class="m w" d="M360,170 L478,100 C498,98 508,124 498,132 L380,206 Z"/>
<ellipse class="b" cx="492" cy="115" rx="11" ry="19" transform="rotate(-30 492 115)"/>
<path class="k w" d="M82,312 L128,272 L318,165 L350,170 L372,190 L376,230 L112,378 L84,358 Z"/>
<path class="m" d="M82,312 L110,324 L112,378 M110,324 L350,190"/>
<path class="b" d="M228,215 L282,185 L292,262 L240,290 Z"/>
<path class="b" d="M118,290 L140,276 L150,292 L128,306 Z"/>
<path class="m" d="M338,172 L345,238 M355,175 L362,235"/>
</g>
<!--sens:end-->
<!--rings10:start-->
<g id="rings10">
<g transform="translate(381.7,293.3)">
<path class="k w" d="M-7.3,0 A7.3,4.2 0 0 1 7.3,0 L7.3,4.8 A7.3,4.2 0 0 1 -7.3,4.8 Z"/>
<path class="m" d="M-7.3,0 A7.3,4.2 0 0 0 7.3,0"/>
<path class="t" d="M-4.8,0.8 A4.8,2.6 0 0 1 4.8,0.8"/>
<path class="k" style="stroke-width:1.7" d="M-4.8,0.8 A4.8,2.6 0 0 0 4.8,0.8"/>
<path class="m" d="M-3.5999999999999996,1.4 A4.8,2.6 0 0 0 3.5999999999999996,1.4"/>
</g>
<g transform="translate(433.2,282.6)">
<path class="k w" d="M-6,0 A6,3.4 0 0 1 6,0 L6,3.6 A6,3.4 0 0 1 -6,3.6 Z"/>
<path class="m" d="M-6,0 A6,3.4 0 0 0 6,0"/>
<path class="t" d="M-3.9,0.6 A3.9,2.1 0 0 1 3.9,0.6"/>
<path class="k" style="stroke-width:1.7" d="M-3.9,0.6 A3.9,2.1 0 0 0 3.9,0.6"/>
<path class="m" d="M-2.7,1.2 A3.9,2.1 0 0 0 2.7,1.2"/>
</g>
<g transform="translate(461.1,266.4)">
<path class="k w" d="M-6,0 A6,3.4 0 0 1 6,0 L6,3.8 A6,3.4 0 0 1 -6,3.8 Z"/>
<path class="m" d="M-6,0 A6,3.4 0 0 0 6,0"/>
<path class="t" d="M-3.9,0.6 A3.9,2.1 0 0 1 3.9,0.6"/>
<path class="k" style="stroke-width:1.7" d="M-3.9,0.6 A3.9,2.1 0 0 0 3.9,0.6"/>
<path class="m" d="M-2.7,1.2 A3.9,2.1 0 0 0 2.7,1.2"/>
</g>
</g>
<!--rings10:end-->
<!--PARTS-->
<!--labels:start-->
<g id="labels" class="lb">
<rect x="181.5" y="108.3" width="10.7" height="10.3"/><text x="186.85" y="117.0">2</text>
<rect x="396.5" y="98.5" width="10.7" height="10.3"/><text x="401.85" y="107.2">2</text>
<rect x="389.4" y="170.3" width="10.7" height="10.3"/><text x="394.75" y="179.0">3</text>
<rect x="119.4" y="242.4" width="10.7" height="10.3"/><text x="124.75" y="251.1">1</text>
<rect x="584.3" y="186.4" width="10.7" height="10.3"/><text x="589.65" y="195.1">5</text>
<rect x="507.7" y="238.5" width="10.7" height="10.3"/><text x="513.05" y="247.2">4</text>
<rect x="320.4" y="257.1" width="10.7" height="10.3"/><text x="325.75" y="265.8">6</text>
<rect x="548.0" y="376.2" width="10.7" height="10.3"/><text x="553.35" y="384.9">6</text>
<rect x="353.0" y="263.2" width="10.7" height="10.3"/><text x="358.35" y="271.9" textLength="7.8" lengthAdjust="spacingAndGlyphs">10</text>
<rect x="8.6" y="328.4" width="10.7" height="10.3"/><text x="13.95" y="337.1">9</text>
<rect x="22.8" y="359.4" width="10.7" height="10.3"/><text x="28.15" y="368.1">8</text>
<rect x="170.8" y="363.4" width="10.7" height="10.3"/><text x="176.15" y="372.1" textLength="7.8" lengthAdjust="spacingAndGlyphs">11</text>
<rect x="270.9" y="431.4" width="10.7" height="10.3"/><text x="276.25" y="440.1">7</text>
</g>
<!--labels:end-->
<!--dash:start-->
<g id="dashes" class="d">
<!-- left: part 2 to body 1 -->
<path d="M231.05,139 V196"/>
<!-- body1 down to rings / plate -->
<path d="M196.5,298 V360"/>
<path d="M196.5,376.5 V417"/>
<path d="M266.3,261 V320"/>
<path d="M266.3,336.5 V377"/>
<path d="M196.5,314.2 L412,438"/>
<path d="M266.3,274 L381,339.6"/>
<path d="M412,424 V441"/>
<path d="M482.6,386 V398.5"/>
<path d="M482.6,398.5 L466,389" style="stroke-dasharray:none"/>
<!-- sensors -->
<path d="M306,230.5 L316.5,237.8" style="stroke-dasharray:none"/>
<path d="M522.3,355.5 L532.8,362.8" style="stroke-dasharray:none"/>
<!-- right column -->
<path d="M447.1,131 V164"/>
<path d="M554,189 V339.6"/>
<path d="M554,339.6 L446.5,278.3"/>
<path d="M447.3,278.3 V321"/>
<path d="M432.6,214 V226"/>
<path d="M432.9,267 V280"/>
<path d="M433.2,289 V312.5"/>
<path d="M461,214 V264"/>
<path d="M460.8,273.5 V312.5"/>
<path d="M407.4,269 V290"/>
<path d="M381.7,285 V290"/>
<path d="M381.7,304 V338"/>
<path d="M394.6,283 V338"/>
<path d="M419.7,297.4 V352"/>
<path d="M476.8,192.3 L495.5,204.8" style="stroke-dasharray:none"/>
</g>
<g id="thinlines" class="t" style="stroke-width:0.9">
<path d="M75.6,295.7 L89.4,287.8 L124.3,308.1 L112.4,315"/>
<path d="M106.9,297.6 L119.7,290.2"/>
<path d="M122.5,274.6 L108.2,282.5 L133.5,297 L147.3,289.3"/>
<path d="M394.6,283.1 L419.7,297.4"/>
<path d="M381.7,312.5 L411.5,330.9"/>
</g>
<!--dash:end-->
<!--LABELS-->
</svg>
</body>
</html>
